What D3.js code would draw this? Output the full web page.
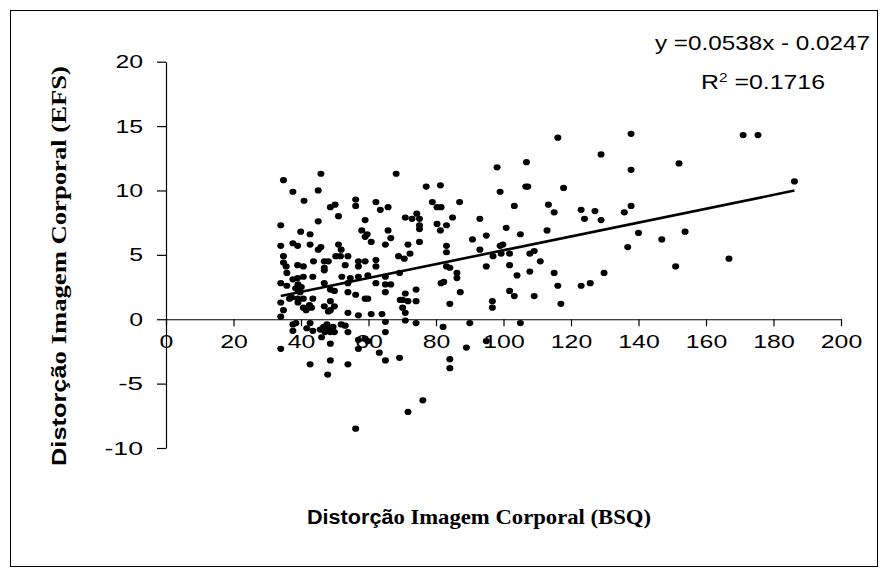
<!DOCTYPE html>
<html>
<head>
<meta charset="utf-8">
<script src="https://cdn.jsdelivr.net/npm/d3@7"></script>
<style>
  html, body { margin: 0; padding: 0; background: #fff; }
  svg { display: block; }
</style>
</head>
<body>
<svg id="chart" width="882" height="572"></svg>
<script>
// ---- data ----
const bsq = [
45.9,34.8,68.2,37.6,45.1,40.9,56.2,56.2,62.2,50.1,48.7,63.5,65.8,51.1,70.9,34.0,45.1,59.0,39.9,42.7,
58.0,59.6,59.0,65.8,34.0,37.6,39.0,42.7,45.9,45.1,51.1,51.9,60.8,65.0,66.6,71.7,34.8,50.3,51.7,53.9,
68.9,70.6,34.8,35.6,39.0,40.7,43.7,46.9,48.1,46.9,53.1,57.0,59.0,62.2,62.2,57.0,72.3,34.0,35.8,37.6,
39.0,40.7,43.5,46.9,52.1,54.6,57.0,59.8,65.0,62.2,65.0,66.6,69.2,39.1,40.1,39.1,38.4,39.7,46.9,48.7,
49.9,53.9,53.9,65.0,70.9,34.0,34.8,36.6,37.2,39.0,40.7,39.1,40.7,41.5,42.5,43.1,43.5,46.9,48.7,48.7,
48.1,49.9,53.9,56.2,59.0,59.8,57.0,60.8,64.0,65.0,69.4,70.1,70.1,70.9,70.9,34.0,37.6,37.6,38.5,42.7,
41.7,43.5,45.7,46.1,46.7,47.1,47.7,48.3,48.7,49.5,49.9,51.9,53.1,53.9,48.7,57.0,57.0,59.0,59.8,63.2,
65.0,65.0,69.2,34.0,42.7,48.7,47.9,53.9,56.2,71.7,35.8,
98.1,106.8,99.0,107.2,106.6,77.1,81.3,78.9,80.3,81.5,87.0,103.2,113.3,72.9,74.3,75.1,75.1,75.1,80.3,81.3,
83.1,84.9,93.0,100.8,112.9,75.1,83.1,83.1,90.8,94.9,93.0,99.0,99.8,96.9,99.3,101.8,105.0,107.8,109.1,110.9,
94.9,101.8,83.1,84.1,86.2,86.2,104.0,107.8,81.5,82.3,87.2,84.1,74.1,71.7,74.1,74.1,96.7,96.7,101.8,103.2,
109.1,82.1,90.0,105.0,94.9,89.0,84.1,84.1,76.1,
116.1,137.8,128.9,137.8,152.0,117.8,115.0,123.0,127.1,124.0,128.9,135.8,137.8,140.0,136.8,146.9,153.8,
115.0,116.1,123.0,125.7,129.8,117.0,151.0,171.0,175.4,186.2,166.8
];
const efs = [
11.3,10.8,11.3,9.9,10.0,9.2,9.3,8.8,9.1,8.9,8.7,8.5,8.7,8.0,7.9,7.3,7.6,7.7,6.8,6.6,
6.9,6.6,6.4,6.9,5.7,5.9,5.7,5.8,5.6,5.4,5.8,5.4,6.0,5.8,6.3,5.8,4.9,4.9,4.9,4.9,
4.9,4.7,4.4,4.1,4.2,4.1,4.5,4.5,4.5,4.0,4.2,4.5,4.5,4.6,4.1,4.1,5.1,2.8,2.6,3.1,
3.2,3.3,3.3,3.8,3.3,3.2,3.3,3.4,3.3,2.8,2.7,2.7,3.6,2.7,2.5,2.3,2.4,2.1,2.8,2.3,
2.2,2.8,2.1,2.1,2.0,1.3,0.7,1.6,1.7,1.6,1.6,1.3,0.9,0.7,1.1,0.9,1.6,1.0,1.4,0.7,
0.6,1.0,0.5,1.9,1.6,1.6,0.3,0.4,0.4,-0.2,1.5,1.5,0.9,0.5,-0.1,0.2,-0.4,-0.9,-0.3,-0.3,
-0.7,-0.9,-0.8,-1.4,-0.6,-1.0,-0.4,-0.7,-1.0,-0.6,-1.0,-0.4,-0.5,-1.0,-1.9,-1.6,-2.3,-1.5,-1.7,-2.6,
-1.0,-3.2,-3.0,-2.3,-3.5,-3.2,-4.3,-3.5,-8.5,-7.2,3.6,
11.8,12.2,9.9,10.3,10.3,10.3,10.4,9.1,8.7,8.7,9.1,8.8,8.9,7.8,8.2,7.8,7.3,7.0,7.4,6.9,
7.3,7.9,7.8,7.1,6.9,6.0,5.7,5.2,6.2,6.5,5.4,5.7,5.8,4.9,5.1,5.1,6.6,5.1,5.3,4.5,
4.1,4.2,4.1,4.0,3.6,3.2,3.4,3.7,2.8,2.9,2.1,1.2,2.3,1.4,1.4,-0.3,1.4,0.9,2.2,1.8,
1.8,-0.6,-0.3,-0.3,-1.7,-2.2,-3.1,-3.8,-6.3,
14.1,14.4,12.8,11.6,12.1,10.2,8.3,8.5,8.4,7.8,7.7,8.3,8.8,6.7,5.6,6.2,6.8,
3.6,2.6,2.6,2.8,3.6,1.2,4.1,14.3,14.3,10.7,4.7
];
const xTicks = [0,20,40,60,80,100,120,140,160,180,200];
const yTicks = [-10,-5,0,5,10,15,20];
const slope = 0.0538;
const intercept = -0.0247;
const rSquared = "0.1716";
const xTitle = ["Distorçã", "o Imagem Corporal (BSQ)"];
const yTitle = ["Distorçã", "o  Imagem  Corporal  (EFS)"];

// ---- drawing ----
const svg = d3.select("#chart");
svg.append("rect").attr("x", 10.5).attr("y", 10.5).attr("width", 867).attr("height", 556)
  .attr("fill", "#fff").attr("stroke", "#000").attr("stroke-width", 1);

const x = d3.scaleLinear().domain([0, 200]).range([166, 841]);
const y = d3.scaleLinear().domain([-10, 20]).range([448, 61.7]);

const tickFont = "'Liberation Sans', Arial, sans-serif";
const fmt = d => d < 0 ? "-" + Math.abs(d) : String(d);
const labelWidth = d => String(Math.abs(d)).length * 13.8 + (d < 0 ? 11 : 0);

const yAxis = svg.append("g").attr("transform", `translate(${x(0)},0)`)
  .call(d3.axisLeft(y).tickValues(yTicks).tickSize(9).tickSizeOuter(0).tickPadding(14).tickFormat(fmt));
const xAxis = svg.append("g").attr("transform", `translate(0,${y(0)})`)
  .call(d3.axisBottom(x).tickValues(xTicks).tickSize(7).tickSizeOuter(0).tickPadding(8).tickFormat(fmt));

[xAxis, yAxis].forEach(g => {
  g.selectAll("path.domain").attr("stroke", "#000").attr("stroke-width", 1.2);
  g.selectAll(".tick line").attr("stroke", "#000").attr("stroke-width", 1.2);
  g.selectAll(".tick text").attr("fill", "#000")
    .style("font-family", tickFont).style("font-size", "19px")
    .attr("textLength", d => labelWidth(d)).attr("lengthAdjust", "spacingAndGlyphs");
});

// points
const pts = bsq.map((v, i) => ({ x: v, y: efs[i] }));
svg.append("g").selectAll("ellipse").data(pts).join("ellipse")
  .attr("cx", d => x(d.x)).attr("cy", d => y(d.y))
  .attr("rx", 3.5).attr("ry", 3.1).attr("fill", "#000");

// trend line
const xmin = d3.min(bsq), xmax = d3.max(bsq);
svg.append("line")
  .attr("x1", x(xmin)).attr("y1", y(slope * xmin + intercept))
  .attr("x2", x(xmax)).attr("y2", y(slope * xmax + intercept))
  .attr("stroke", "#000").attr("stroke-width", 2.6);

// equation texts
const narrow = "'Liberation Sans Narrow', 'Arial Narrow', 'Liberation Sans', Arial, sans-serif";
svg.append("text").attr("x", 655).attr("y", 49.5)
  .attr("textLength", 215).attr("lengthAdjust", "spacingAndGlyphs")
  .style("font-family", narrow).style("font-size", "21px").attr("fill", "#000")
  .text(`y =${slope}x - ${Math.abs(intercept)}`);
const r2 = svg.append("text").attr("x", 701).attr("y", 88.5)
  .attr("textLength", 124).attr("lengthAdjust", "spacingAndGlyphs")
  .style("font-family", narrow).style("font-size", "21px").attr("fill", "#000");
r2.append("tspan").text("R");
r2.append("tspan").attr("dy", -7).style("font-size", "13px").text("2");
r2.append("tspan").attr("dy", 7).text(" =" + rSquared);

// axis titles
const xt = svg.append("text").attr("x", 307).attr("y", 523.5)
  .attr("textLength", 344).attr("lengthAdjust", "spacingAndGlyphs").attr("fill", "#000");
xt.append("tspan").style("font-family", "'Liberation Sans', Arial, sans-serif")
  .style("font-weight", "bold").style("font-size", "20px").text(xTitle[0]);
xt.append("tspan").style("font-family", "'Liberation Serif', 'Times New Roman', serif")
  .style("font-weight", "bold").style("font-size", "21px").text(xTitle[1]);

const yt = svg.append("text").attr("transform", "translate(66,466) rotate(-90)")
  .attr("x", 0).attr("y", 0)
  .attr("textLength", 400).attr("lengthAdjust", "spacingAndGlyphs").attr("fill", "#000");
yt.append("tspan").style("font-family", "'Liberation Sans', Arial, sans-serif")
  .style("font-weight", "bold").style("font-size", "20px").text(yTitle[0]);
yt.append("tspan").style("font-family", "'Liberation Serif', 'Times New Roman', serif")
  .style("font-weight", "bold").style("font-size", "21px").text(yTitle[1]);
</script>
</body>
</html>
